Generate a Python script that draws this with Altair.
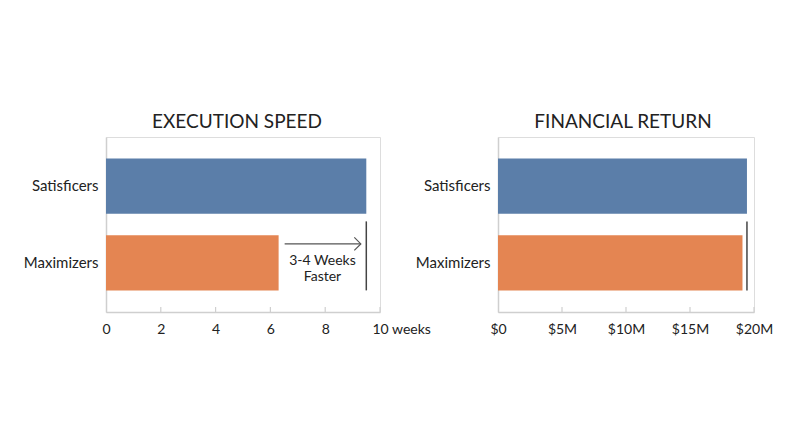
import altair as alt
import pandas as pd

# ---- data ----
groups = ["Satisficers", "Maximizers"]
weeks = [9.5, 6.3]
returns_m = [19.45, 19.1]
bar_colors = ["#5b7ea9", "#e48552"]
week_ticks = [0, 2, 4, 6, 8, 10]
money_ticks = [0, 5, 10, 15, 20]
speed_rule = [9.5]
money_rule = [19.45]
arrow_from = [6.52]
arrow_to = [9.3]
annot_x = [7.9]
annot_text = ["3-4 Weeks", "Faster"]

FONT = "Lato"
H = 175
AX = "#cfcfcf"
TXT = "#222222"

yscale = alt.Scale(domain=groups, paddingInner=0.28, paddingOuter=0.28)


def yenc(axis=True):
    if axis:
        return alt.Y("group:N", scale=yscale, sort=groups,
                     axis=alt.Axis(title=None, ticks=False, domainColor=AX, domainWidth=1.5,
                                   labelFont=FONT, labelFontSize=15, labelColor=TXT,
                                   labelPadding=8))
    return alt.Y("group:N", scale=yscale, sort=groups)


def panel(vals, dmax, ticks, label_expr, title, width, rule_x, title_dx,
          label_align=None, label_offset=None, extra=None):
    df = pd.DataFrame({"group": groups, "value": vals})
    axis_kw = dict(values=ticks, title=None, grid=False, ticks=False, domainColor=AX,
                   domainWidth=1.5, labelFont=FONT, labelFontSize=14, labelColor=TXT,
                   labelPadding=10, labelExpr=label_expr, labelFlush=False)
    if label_align is not None:
        axis_kw["labelAlign"] = label_align
    if label_offset is not None:
        axis_kw["labelOffset"] = label_offset
    xenc = alt.X("value:Q", scale=alt.Scale(domain=[0, dmax], nice=False),
                 axis=alt.Axis(**axis_kw))
    bars = alt.Chart(df).mark_bar().encode(
        x=xenc, y=yenc(),
        color=alt.Color("group:N", scale=alt.Scale(domain=groups, range=bar_colors),
                        legend=None),
    )
    tk = alt.Chart(pd.DataFrame({"value": ticks[1:]})).mark_rule(color=AX, strokeWidth=1.2).encode(
        x="value:Q", y=alt.value(H - 5), y2=alt.value(H))
    rule = alt.Chart(pd.DataFrame({"group": [groups[1]], "value": rule_x})).mark_tick(
        orient="vertical", size=69, thickness=1.5, color="#444444", opacity=1,
        yOffset=-7).encode(x="value:Q", y=yenc(False))
    layers = [bars, tk, rule]
    if extra:
        layers += extra
    return alt.layer(*layers).properties(
        width=width, height=H,
        title=alt.TitleParams(title, font=FONT, fontSize=19, fontWeight="normal",
                              color=TXT, offset=5, dx=title_dx),
    )


arrow_df = pd.DataFrame({"group": [groups[1]], "a": arrow_from, "b": arrow_to})
arrow_line = alt.Chart(arrow_df).mark_rule(color="#555555", strokeWidth=1.2, yOffset=-19).encode(
    x="a:Q", x2="b:Q", y=yenc(False))
arrow_head = alt.Chart(arrow_df).mark_point(
    shape="M-1,-1L0,0L-1,1", size=169, filled=False, color="#555555",
    strokeWidth=1.2, opacity=1, yOffset=-19).encode(x="b:Q", y=yenc(False))
annot = alt.Chart(pd.DataFrame({"group": [groups[1]], "x": annot_x})).mark_text(
    text=annot_text, font=FONT, fontSize=14, color=TXT, align="center",
    baseline="top", dy=-9, lineHeight=16).encode(x="x:Q", y=yenc(False))

left = panel(weeks, 10, week_ticks, "datum.value == 10 ? '10 weeks' : datum.label",
             "EXECUTION SPEED", 274, speed_rule, -6,
             label_align={"condition": {"test": "datum.value == 10", "value": "left"},
                          "value": "center"},
             label_offset={"condition": {"test": "datum.value == 10", "value": -8},
                           "value": 0},
             extra=[arrow_line, arrow_head, annot])
right = panel(returns_m, 20, money_ticks,
              "datum.value == 0 ? '$0' : '$' + datum.value + 'M'",
              "FINANCIAL RETURN", 256, money_rule, -3)

chart = alt.hconcat(left, right, spacing=118, bounds="flush").properties(
    padding={"left": 14, "top": 104, "right": 5, "bottom": 5}
).configure_view(stroke=None).configure(background="white")

chart.save("out.html", embed_options={"renderer": "svg", "actions": False})
